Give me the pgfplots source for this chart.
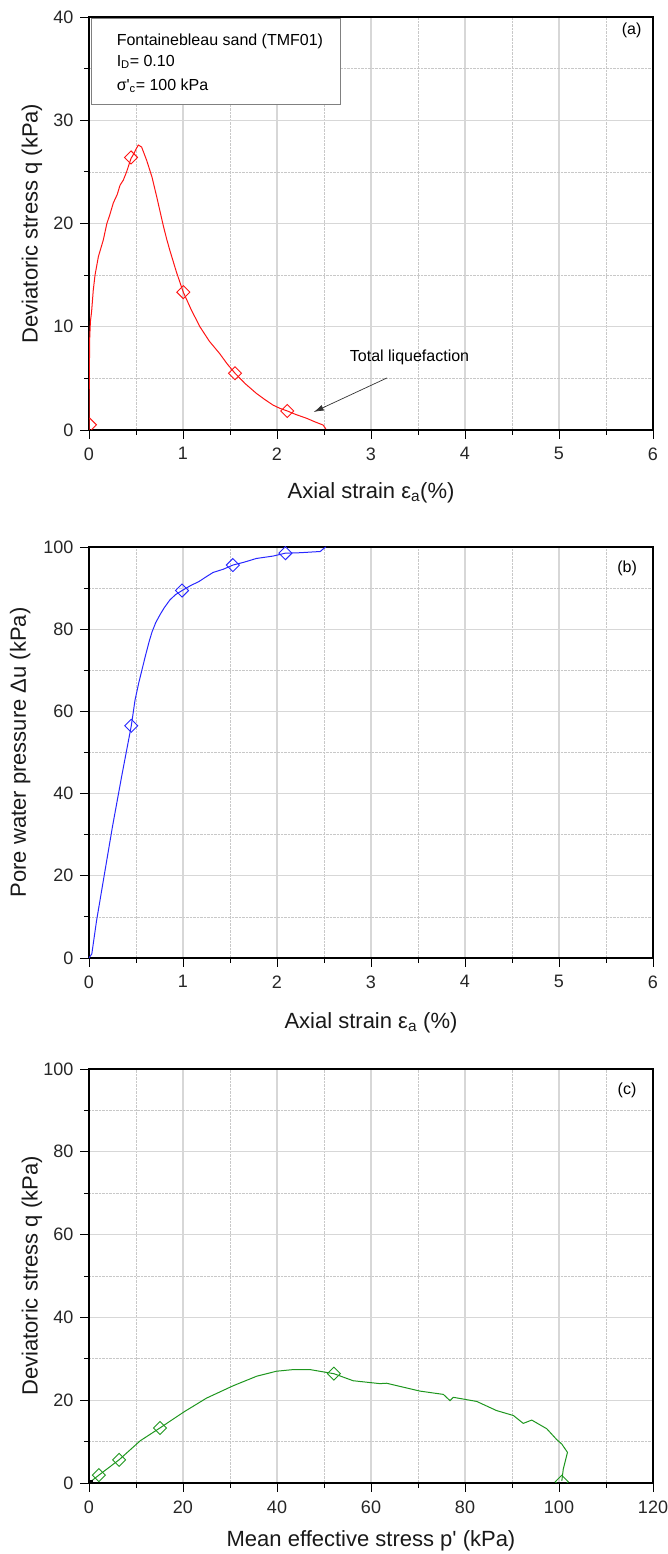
\documentclass[border=0pt]{standalone}
\usepackage{fontspec}
\setmainfont{Liberation Sans}[Ligatures=TeXOff]
\usepackage{pgfplots}
\pgfplotsset{compat=1.18}
\usetikzlibrary{arrows.meta}

\definecolor{gridmaj}{RGB}{215,215,215}
\definecolor{gridmin}{RGB}{200,200,200}
\definecolor{myred}{RGB}{255,20,20}
\definecolor{myblue}{RGB}{40,40,255}
\definecolor{mygreen}{RGB}{30,150,30}

\pgfplotsset{
 panel/.style={
  scale only axis, width=564pt,
  axis line style={line width=1.2pt, black},
  tick align=outside, xtick pos=bottom, ytick pos=left,
  major tick length=9pt, minor tick length=5pt,
  every tick/.append style={black, line width=0.9pt},
  minor x tick num=1, minor y tick num=1,
  xmajorgrids, ymajorgrids, xminorgrids, yminorgrids,
  major grid style={gridmaj, line width=1.1pt},
  minor grid style={gridmin, densely dotted, line width=0.6pt},
  tick label style={font=\fontsize{18}{20}\selectfont, text=black!85},
  xticklabel style={yshift=-5pt},
  yticklabel style={xshift=-3pt},
  /pgf/number format/assume math mode=true,
  label style={font=\fontsize{22}{24}\selectfont, text=black!90},
  clip marker paths=true,
 },
 curve/.style={line width=1pt, no marks},
 dmark/.style={only marks, mark=square, mark size=4.6pt, mark options={rotate=45, fill=white, line width=0.9pt}},
}

\begin{document}
\begin{tikzpicture}
\path[use as bounding box] (0,0) rectangle (668pt,1554pt);

% ---------------- (a)
\begin{axis}[panel, height=413pt, at={(89pt,1124pt)}, anchor=south west,
  xmin=0, xmax=6, ymin=0, ymax=40,
  xtick={0,1,...,6}, ytick={0,10,20,30,40},
  xlabel={Axial strain ε\textsubscript{a}(\%)},
  ylabel={Deviatoric stress q (kPa)},
  xlabel style={at={(axis description cs:0.5,-0.152)}, anchor=center},
  ylabel style={at={(axis description cs:-0.101,0.5)}, anchor=center},
]
\addplot[curve, myred] coordinates {
(0,0) (0.002,3) (0.004,6) (0.008,9) (0.015,10.5) (0.028,11.5) (0.045,13.5) (0.064,15)
(0.1,16.8) (0.152,18.4) (0.19,20) (0.22,20.8) (0.259,22) (0.3,22.8) (0.33,23.7)
(0.365,24.2) (0.4,25) (0.447,26.3) (0.48,26.8) (0.5,27.2) (0.525,27.6) (0.56,27.4)
(0.614,26.1) (0.67,24.5) (0.72,22.6) (0.755,21.2) (0.79,19.8) (0.826,18.5) (0.86,17.4) (0.93,15.3)
(1.003,13.35) (1.09,11.6) (1.18,10.0) (1.28,8.6) (1.39,7.4) (1.47,6.4) (1.553,5.5)
(1.66,4.5) (1.78,3.55) (1.87,2.95) (1.96,2.4) (2.03,2.1) (2.11,1.84) (2.2,1.5)
(2.316,1.13) (2.4,0.8) (2.49,0.48) (2.52,0.1)
};
\addplot[dmark, myred] coordinates {(0.01,0.5) (0.447,26.4) (1.003,13.35) (1.553,5.5) (2.11,1.84)};
\draw[gray, line width=0.8pt, fill=white] (rel axis cs:0.005,0.997) rectangle (rel axis cs:0.445,0.789);
\node[anchor=base west, font=\fontsize{16}{18}\selectfont] at (rel axis cs:0.043,0.932) {Fontainebleau sand (TMF01)};
\node[anchor=base west, font=\fontsize{16}{18}\selectfont] at (rel axis cs:0.043,0.881) {I\textsubscript{D}= 0.10};
\node[anchor=base west, font=\fontsize{16}{18}\selectfont] at (rel axis cs:0.043,0.823) {σ'\textsubscript{c}= 100 kPa};
\node[font=\fontsize{16}{18}\selectfont] at (rel axis cs:0.962,0.968) {(a)};
\draw[-{Latex[length=10pt,width=6pt]}, line width=0.7pt, black!80] (axis cs:3.17,5.04) -- (axis cs:2.39,1.74);
\node[font=\fontsize{16}{18}\selectfont] at (axis cs:3.41,7.0) {Total liquefaction};
\end{axis}

% ---------------- (b)
\begin{axis}[panel, height=411pt, at={(89pt,596pt)}, anchor=south west,
  xmin=0, xmax=6, ymin=0, ymax=100,
  xtick={0,1,...,6}, ytick={0,20,...,100},
  xlabel={Axial strain ε\textsubscript{a} (\%)},
  ylabel={Pore water pressure Δu (kPa)},
  xlabel style={at={(axis description cs:0.5,-0.158)}, anchor=center},
  ylabel style={at={(axis description cs:-0.122,0.5)}, anchor=center},
]
\addplot[curve, myblue] coordinates {
(0,0) (0.03,1) (0.08,9) (0.15,18.5) (0.25,32) (0.35,44.5) (0.45,56.5) (0.49,62.8)
(0.53,67) (0.56,69.8) (0.6,73.5) (0.64,77) (0.67,79.3) (0.71,81.6) (0.755,83.5)
(0.8,85.2) (0.86,87.1) (0.92,88.4) (0.99,89.4) (1.08,90.6)
(1.17,91.6) (1.25,92.8) (1.32,93.8) (1.43,94.6) (1.53,95.6) (1.65,96.3) (1.78,97.2)
(1.96,97.8) (2.09,98.5) (2.24,98.6) (2.46,98.9) (2.49,99.5) (2.52,100)
};
\addplot[dmark, myblue] coordinates {(0.45,56.5) (0.99,89.4) (1.53,95.6) (2.09,98.5)};
\node[font=\fontsize{16}{18}\selectfont] at (rel axis cs:0.954,0.949) {(b)};
\end{axis}

% ---------------- (c)
\begin{axis}[panel, height=414pt, at={(89pt,71pt)}, anchor=south west,
  xmin=0, xmax=120, ymin=0, ymax=100,
  xtick={0,20,...,120}, ytick={0,20,...,100},
  xlabel={Mean effective stress p' (kPa)},
  ylabel={Deviatoric stress q (kPa)},
  xlabel style={at={(axis description cs:0.5,-0.14)}, anchor=center},
  ylabel style={at={(axis description cs:-0.101,0.5)}, anchor=center},
]
\addplot[curve, mygreen] coordinates {
(100.6,0.5) (100.9,3.3) (101.8,7.4) (100.6,9.4) (99.5,10.5) (97.4,13.1) (94.2,15.2)
(92.4,14.4) (90.3,16.3) (86.7,17.5) (82.5,19.7) (77.5,20.7) (76.8,19.9) (75.4,21.4)
(70.4,22.2) (63.3,24.1) (61.9,24.0) (56.2,24.7) (52.1,26.4) (47,27.4) (43.5,27.4)
(39.9,27) (35.7,25.8) (30.7,23.5) (25,20.5) (20.1,17.1) (15.1,13.3) (10.9,10.2)
(6.4,5.6) (2.1,1.9) (0.2,0.2)
};
\addplot[dmark, mygreen] coordinates {(100.6,0.3) (52.1,26.4) (15.1,13.3) (6.4,5.6) (2.1,1.9)};
\addplot[only marks, mark=square*, mark size=1.5pt, black] coordinates {(0.4,0.3)};
\node[font=\fontsize{16}{18}\selectfont] at (rel axis cs:0.954,0.949) {(c)};
\end{axis}
\end{tikzpicture}
\end{document}
